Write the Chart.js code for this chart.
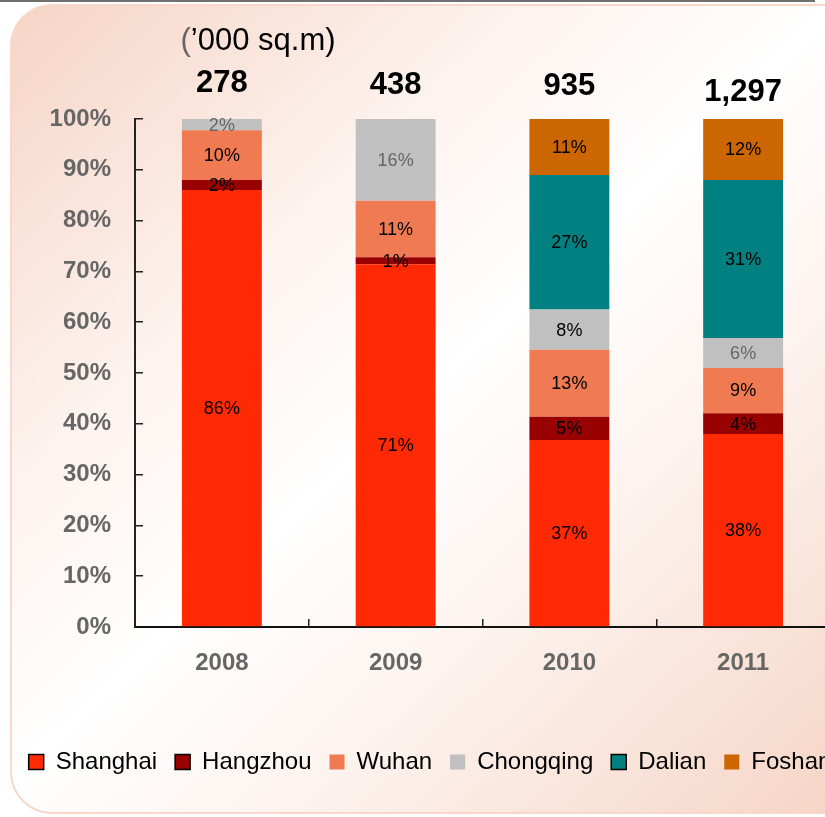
<!DOCTYPE html>
<html lang="en">
<head>
    <meta charset="UTF-8">
    <title>Floor area by city</title>
    <script src="https://cdn.jsdelivr.net/npm/chart.js"></script>
    <style>
        html, body {
            margin: 0;
            padding: 0;
            width: 825px;
            height: 817px;
            overflow: hidden;
            background: #fff;
            font-family: Arial, "Liberation Sans", sans-serif;
        }
        .topline {
            position: absolute;
            left: 0;
            top: 0;
            width: 815px;
            height: 2px;
            background: #707070;
        }
        .panel {
            position: absolute;
            left: 10px;
            top: 4px;
            width: 860px;
            height: 806px;
            border: 2px solid #f7d8ca;
            border-radius: 42px;
            background: linear-gradient(to bottom right, #f6d4c5 0%, #fdf3ef 30%, #ffffff 48%, #fdf4f0 65%, #f5d3c3 100%);
        }
        .chart-box {
            position: absolute;
            left: -20px;
            top: 0;
            width: 900px;
            height: 817px;
        }
    </style>
</head>
<body>
    <div class="topline"></div>
    <div class="panel"></div>
    <div class="chart-box">
        <canvas id="chart"></canvas>
    </div>

    <script>
        // values (share of total, %)
        const categories = ['2008', '2009', '2010', '2011'];
        const totals = ['278', '438', '935', '1,297'];
        const shanghai = [86.0, 71.4, 36.8, 38.0];
        const hangzhou = [2.0, 1.4, 4.6, 4.1];
        const wuhan = [9.8, 11.1, 13.2, 8.9];
        const chongqing = [2.2, 16.1, 7.9, 5.9];
        const dalian = [null, null, 26.5, 31.1];
        const foshan = [null, null, 11.0, 12.0];
        const yTicks = [0, 10, 20, 30, 40, 50, 60, 70, 80, 90, 100];

        const FONT = 'Arial, "Liberation Sans", sans-serif';

        const series = [
            { label: 'Shanghai', data: shanghai, color: '#ff2a04', box: true, text: '#000' },
            { label: 'Hangzhou', data: hangzhou, color: '#990000', box: true, text: '#000' },
            { label: 'Wuhan', data: wuhan, color: '#f07a52', box: false, text: '#000' },
            { label: 'Chongqing', data: chongqing, color: '#c0c0c0', box: false, text: ['#666', '#666', '#000', '#666'] },
            { label: 'Dalian', data: dalian, color: '#008080', box: true, text: '#000' },
            { label: 'Foshan', data: foshan, color: '#cc6600', box: false, text: '#000' }
        ];

        // percentage labels inside the segments, totals above bars, unit title
        const labelPlugin = {
            id: 'labels',
            afterDatasetsDraw(chart) {
                const ctx = chart.ctx;
                const area = chart.chartArea;
                const x = chart.scales.x;
                ctx.save();
                ctx.textAlign = 'center';
                ctx.textBaseline = 'middle';
                ctx.font = '18px ' + FONT;
                chart.data.datasets.forEach((ds, i) => {
                    const meta = chart.getDatasetMeta(i);
                    meta.data.forEach((bar, j) => {
                        const v = ds.data[j];
                        if (!v) return;
                        const c = series[i].text;
                        ctx.fillStyle = Array.isArray(c) ? c[j] : c;
                        ctx.fillText(Math.round(v) + '%', bar.x, (bar.y + bar.base) / 2 + 1);
                    });
                });

                // totals ('000 sq.m)
                const dy = [-36, -34, -33, -27];
                ctx.font = 'bold 31px ' + FONT;
                ctx.fillStyle = '#000';
                totals.forEach((t, j) => {
                    ctx.fillText(t, x.getPixelForValue(j), area.top + dy[j]);
                });

                // unit title, first bracket in grey
                ctx.font = '31px ' + FONT;
                const a = '(';
                const b = '\u2019000 sq.m)';
                const wa = ctx.measureText(a).width;
                const wb = ctx.measureText(b).width;
                const cx = area.left + 123;
                const sx = cx - (wa + wb) / 2;
                ctx.textAlign = 'left';
                ctx.fillStyle = '#666';
                ctx.fillText(a, sx, 41);
                ctx.fillStyle = '#000';
                ctx.fillText(b, sx + wa, 41);
                ctx.restore();
            }
        };

        new Chart(document.getElementById('chart'), {
            type: 'bar',
            data: {
                labels: categories,
                datasets: series.map(s => ({
                    label: s.label,
                    data: s.data,
                    backgroundColor: s.color,
                    borderWidth: 0,
                    categoryPercentage: 1,
                    barPercentage: 0.46
                }))
            },
            options: {
                responsive: true,
                maintainAspectRatio: false,
                animation: false,
                layout: {
                    padding: { top: 119, right: 0, bottom: 33, left: 0 }
                },
                plugins: {
                    title: { display: false },
                    tooltip: { enabled: false },
                    legend: {
                        position: 'bottom',
                        labels: {
                            boxWidth: 15,
                            boxHeight: 15,
                            padding: 18,
                            color: '#000',
                            font: { family: FONT, size: 24 },
                            generateLabels(chart) {
                                return chart.data.datasets.map((ds, i) => ({
                                    text: ds.label,
                                    fillStyle: ds.backgroundColor,
                                    strokeStyle: series[i].box ? '#000' : ds.backgroundColor,
                                    lineWidth: series[i].box ? 1.5 : 0,
                                    fontColor: '#000',
                                    hidden: false,
                                    datasetIndex: i
                                }));
                            }
                        }
                    }
                },
                scales: {
                    x: {
                        stacked: true,
                        grid: {
                            drawOnChartArea: false,
                            drawTicks: true,
                            tickLength: -8,
                            color: '#222',
                            lineWidth: 1.5
                        },
                        border: { display: true, color: '#111', width: 2 },
                        ticks: {
                            color: '#666',
                            padding: 30,
                            font: { family: FONT, size: 24, weight: 'bold' }
                        },
                        afterFit(scale) { scale.height = 105; }
                    },
                    y: {
                        stacked: true,
                        min: 0,
                        max: 100,
                        afterBuildTicks(scale) {
                            scale.ticks = yTicks.map(v => ({ value: v }));
                        },
                        grid: {
                            drawOnChartArea: false,
                            drawTicks: true,
                            tickLength: -8,
                            color: '#222',
                            lineWidth: 1.5
                        },
                        border: { display: true, color: '#222', width: 2 },
                        ticks: {
                            color: '#666',
                            padding: 32,
                            font: { family: FONT, size: 24, weight: 'bold' },
                            callback: v => v + '%'
                        },
                        afterFit(scale) { scale.width = 155; }
                    },
                    // empty strip on the right, keeps the plot edge where the picture has it
                    pad: {
                        type: 'linear',
                        position: 'right',
                        grid: { display: false, drawTicks: false },
                        border: { display: false },
                        ticks: { display: false },
                        afterFit(scale) { scale.width = 50; }
                    }
                }
            },
            plugins: [labelPlugin]
        });
    </script>
</body>
</html>
